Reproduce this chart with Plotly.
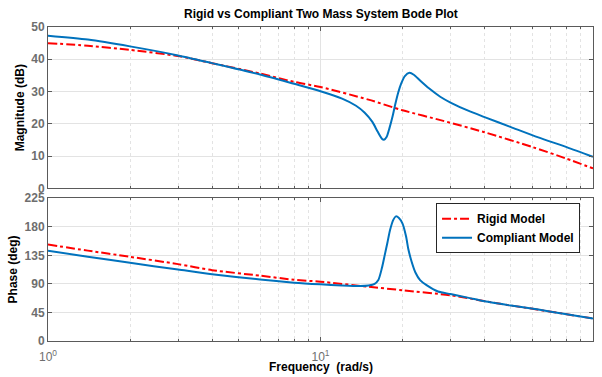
import plotly.graph_objects as go

# ---------------- data ----------------
rigid_mag_w = [1, 1.4, 2, 3, 4, 6, 8, 10, 15, 20, 28, 40, 60, 80, 100]
rigid_mag_db = [45.0, 44.2, 42.9, 41.0, 38.8, 35.6, 33.0, 31.4, 27.5, 24.2, 21.0, 17.4, 12.8, 9.2, 6.2]

compliant_mag_w = [1, 1.4, 2, 3, 4, 6, 8, 10, 12, 13.5, 14.5, 15.5, 16.2, 16.8, 17.1, 17.5,
                   17.9, 18.4, 18.8, 19.3, 19.8, 20.4, 21.2, 22.0, 23.2, 25, 27.5, 30, 35,
                   40, 50, 63, 80, 100]
compliant_mag_db = [47.3, 46.1, 44.0, 41.2, 38.8, 35.3, 32.4, 30.1, 27.8, 25.6, 23.5, 20.6,
                    17.6, 15.4, 15.1, 16.0, 18.6, 22.4, 26.0, 29.8, 32.6, 34.8, 35.8, 35.2,
                    33.4, 31.0, 28.4, 26.6, 24.0, 22.1, 19.0, 15.8, 12.8, 9.8]

rigid_ph_w = [1, 1.4, 2, 3, 4, 6, 8, 10, 15, 20, 30, 45, 60, 80, 100]
rigid_ph_deg = [152, 142.5, 132.7, 121.2, 111.7, 103, 96.5, 93.5, 85.5, 80, 72, 59, 50.8, 42.2, 35.4]

compliant_ph_w = [1, 1.4, 2, 3, 4, 6, 8, 10, 12, 14, 15, 15.8, 16.3, 16.8, 17.2, 17.6, 18.0,
                  18.5, 18.9, 19.4, 20.0, 20.6, 21.0, 21.6, 22.3, 23.2, 24.5, 27, 30, 35,
                  40, 50, 63, 80, 100]
compliant_ph_deg = [142.2, 133, 123.2, 112.8, 105.4, 97, 92, 89.3, 87.5, 86.6, 87.5, 90, 96,
                    115, 135, 155, 175, 191, 196.5, 194, 185, 165, 145, 125, 108, 96, 88,
                    78, 74, 68, 62.5, 55.8, 49.5, 42, 35.4]

mag_ticks = [0, 10, 20, 30, 40, 50]
phase_ticks = [0, 45, 90, 135, 180, 225]
freq_ticks = [1, 10, 100]
freq_ticktext = ["10<sup>0</sup>", "10<sup>1</sup>", "10<sup>2</sup>"]
freq_minor_ticks = [2, 3, 4, 5, 6, 7, 8, 9, 20, 30, 40, 50, 60, 70, 80, 90]

title_text = "Rigid vs Compliant Two Mass System Bode Plot"
names = ["Rigid Model", "Compliant Model"]

# ---------------- styling ----------------
RED = "#ff0000"
BLUE = "#0072bd"
FONT = "Liberation Sans, Arial, sans-serif"
TICKCOL = "#6e6e6e"
AXCOL = "#5a5a5a"
GRID = "#e3e3e3"

fig = go.Figure()

line_kw = dict(shape="spline", smoothing=0.7)

fig.add_trace(go.Scatter(x=rigid_mag_w, y=rigid_mag_db, mode="lines", name=names[0],
                         line=dict(color=RED, width=2, dash="dashdot", **line_kw),
                         xaxis="x", yaxis="y", showlegend=False, legendgroup="r"))
fig.add_trace(go.Scatter(x=compliant_mag_w, y=compliant_mag_db, mode="lines", name=names[1],
                         line=dict(color=BLUE, width=2, **line_kw),
                         xaxis="x", yaxis="y", showlegend=False, legendgroup="c"))
fig.add_trace(go.Scatter(x=rigid_ph_w, y=rigid_ph_deg, mode="lines", name=names[0],
                         line=dict(color=RED, width=2, dash="dashdot", **line_kw),
                         xaxis="x2", yaxis="y2", legendgroup="r"))
fig.add_trace(go.Scatter(x=compliant_ph_w, y=compliant_ph_deg, mode="lines", name=names[1],
                         line=dict(color=BLUE, width=2, **line_kw),
                         xaxis="x2", yaxis="y2", legendgroup="c"))

xcommon = dict(type="log", range=[0, 2], showline=True, linecolor=AXCOL, linewidth=1,
               mirror="ticks", ticks="inside", ticklen=4, tickcolor=AXCOL,
               showgrid=True, gridcolor=GRID, gridwidth=1, zeroline=False,
               tickmode="array", tickvals=freq_ticks,
               minor=dict(tickmode="array", tickvals=freq_minor_ticks, showgrid=True,
                          gridcolor=GRID, griddash="dot", ticks="inside",
                          ticklen=2, tickcolor=AXCOL),
               tickfont=dict(family=FONT, size=12, color=TICKCOL))

ycommon = dict(showline=True, linecolor=AXCOL, linewidth=1, mirror="ticks",
               ticks="inside", ticklen=4, tickcolor=AXCOL, showgrid=True,
               gridcolor=GRID, gridwidth=1, zeroline=False,
               tickfont=dict(family=FONT, size=12, color=TICKCOL))

fig.update_layout(
    width=602, height=377,
    margin=dict(l=48, r=9, t=27, b=36),
    paper_bgcolor="white", plot_bgcolor="white",
    font=dict(family=FONT, size=12, color="black"),
    xaxis=dict(**xcommon, domain=[0, 1], anchor="y", showticklabels=False, matches="x2"),
    xaxis2=dict(**xcommon, domain=[0, 1], anchor="y2", ticktext=freq_ticktext,
                ticklabelstandoff=5),
    yaxis=dict(**ycommon, domain=[0.486, 1], range=[0, 50], tickvals=mag_ticks,
               ticktext=["<b>%d</b>" % v for v in mag_ticks]),
    yaxis2=dict(**ycommon, domain=[0, 0.4545], range=[0, 225], tickvals=phase_ticks,
                ticktext=["<b>%d</b>" % v for v in phase_ticks]),
    showlegend=True,
    legend=dict(x=0.712, y=0.439, xanchor="left", yanchor="top",
                bgcolor="white", bordercolor="#262626", borderwidth=1,
                font=dict(family=FONT, size=12, color="black"),
                itemwidth=30, tracegroupgap=0),
    annotations=[
        dict(text="<b>" + title_text + "</b>", x=0.5, y=1.041, xref="paper", yref="paper",
             xanchor="center", yanchor="middle", showarrow=False,
             font=dict(family=FONT, size=12, color="black")),
        dict(text="<b>Magnitude (dB)</b>", x=-0.0514, y=0.744, xref="paper", yref="paper",
             xanchor="center", yanchor="middle", textangle=-90, showarrow=False,
             font=dict(family=FONT, size=12, color="black")),
        dict(text="<b>Phase (deg)</b>", x=-0.0642, y=0.228, xref="paper", yref="paper",
             xanchor="center", yanchor="middle", textangle=-90, showarrow=False,
             font=dict(family=FONT, size=12, color="black")),
        dict(text="<b>Frequency\u00a0\u00a0(rad/s)</b>", x=0.5, y=-0.083, xref="paper",
             yref="paper", xanchor="center", yanchor="middle", showarrow=False,
             font=dict(family=FONT, size=12, color="black")),
    ],
)

# bold legend labels
fig.for_each_trace(lambda t: t.update(name="<b>" + t.name + "</b>"))

fig.write_html("out.html")
